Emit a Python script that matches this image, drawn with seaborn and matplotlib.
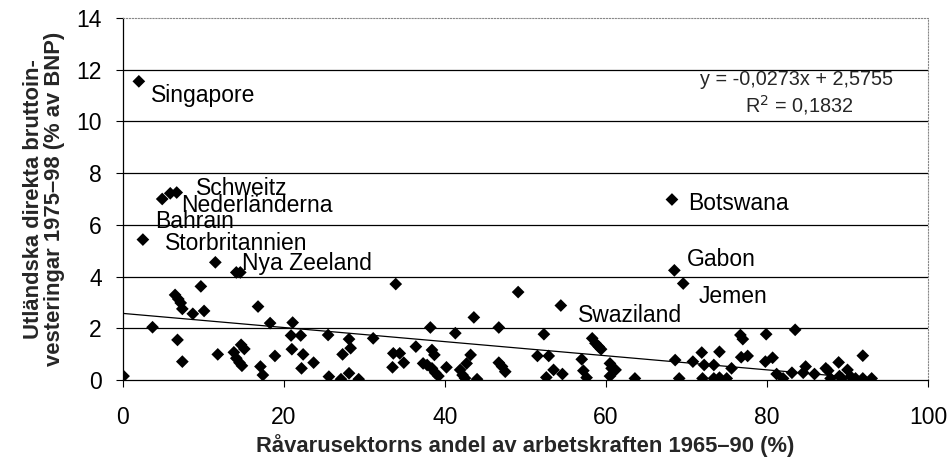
"""FDI vs primary-sector labour share — scatter with trendline."""

import numpy as np
import pandas as pd
import matplotlib
matplotlib.use('Agg')
import matplotlib.pyplot as plt
import seaborn as sns

# labelled countries
countries = ["Singapore", "Schweitz", "Nederländerna", "Bahrain", "Storbritannien",
             "Nya Zeeland", "Botswana", "Gabon", "Jemen", "Swaziland"]
country_x = [2.0, 6.7, 5.9, 4.9, 2.5, 11.5, 68.2, 68.5, 69.6, 54.4]
country_y = [11.55, 7.25, 7.22, 7.0, 5.43, 4.55, 6.98, 4.24, 3.73, 2.88]

# unlabelled countries
other_x = [0.1, 3.7, 9.7, 6.5, 6.9, 7.2, 7.4, 8.7, 10.1, 6.8, 7.4, 16.8, 18.3, 11.8,
           13.8, 14.7, 15.1, 14.1, 14.5, 14.8, 17.1, 17.4, 18.9, 21.1, 20.9, 22.1,
           21.0, 22.4, 22.2, 23.7, 25.5, 25.6, 14.1, 14.6,
           27.1, 33.9, 28.1, 28.3, 27.3, 28.1, 29.3, 31.1, 33.6, 34.4, 34.9, 33.5,
           36.4, 38.2, 38.4, 38.7, 37.3, 37.8, 38.4, 38.8, 39.2, 40.2, 41.3, 43.6,
           43.2, 42.7, 41.9, 42.2, 42.5, 44.0, 46.7, 49.1, 46.7, 47.1, 47.5, 51.5,
           52.3, 52.9, 53.5, 52.6, 54.6, 57.0, 57.2, 57.6, 58.3, 58.7, 59.1, 59.4,
           60.5, 60.7, 61.2, 60.5, 63.6, 68.6, 69.1, 70.8, 71.9, 72.2, 72.0, 73.4,
           74.1, 74.1, 75.0, 73.4, 75.6, 76.7, 77.0, 76.8,
           77.6, 79.9, 83.5, 79.8, 80.7, 81.2, 82.0, 83.1, 84.8, 84.5, 85.9, 87.3,
           87.6, 87.9, 88.9, 89.0, 89.3, 90.0, 91.0, 91.9, 93.0, 90.4, 91.9]
other_y = [0.15, 2.04, 3.62, 3.29, 3.13, 2.98, 2.75, 2.56, 2.67, 1.55, 0.71, 2.84, 2.2, 0.99,
           1.07, 1.36, 1.2, 0.84, 0.67, 0.55, 0.52, 0.19, 0.93, 2.22, 1.72, 1.72,
           1.19, 0.99, 0.45, 0.67, 1.74, 0.13, 4.16, 4.16,
           0.03, 3.71, 1.58, 1.23, 0.99, 0.26, 0.03, 1.61, 1.03, 1.03, 0.67, 0.49,
           1.29, 2.03, 1.16, 0.97, 0.64, 0.58, 0.45, 0.28, 0.15, 0.49, 1.81, 2.42,
           0.97, 0.64, 0.39, 0.19, 0.07, 0.03, 2.03, 3.4, 0.67, 0.52, 0.32, 0.93,
           1.77, 0.93, 0.39, 0.1, 0.23, 0.8, 0.36, 0.09, 1.61, 1.42, 1.29, 1.19,
           0.64, 0.45, 0.39, 0.15, 0.06, 0.77, 0.06, 0.71, 1.06, 0.58, 0.06, 0.58,
           1.09, 0.09, 0.06, 0.06, 0.45, 1.74, 1.58, 0.88,
           0.93, 1.77, 1.94, 0.71, 0.86, 0.23, 0.06, 0.28, 0.52, 0.28, 0.23, 0.45,
           0.36, 0.06, 0.68, 0.15, 0.06, 0.39, 0.06, 0.06, 0.06, 0.13, 0.94]

# trendline as printed in the chart
slope, intercept, r2 = -0.0273, 2.5755, 0.1832

df = pd.DataFrame({"x": country_x + other_x, "y": country_y + other_y})

sns.set_theme(style="white")
plt.rcParams['font.family'] = ['Liberation Sans', 'DejaVu Sans']

fig = plt.figure(figsize=(9.53, 4.69), dpi=100)
ax = fig.add_axes([0.1288, 0.1898, 0.8450, 0.7718])

sns.scatterplot(data=df, x="x", y="y", marker="D", s=42, color="black",
                edgecolor="none", ax=ax, zorder=3)

xs = np.array([df.x.min(), df.x.max()])
ax.plot(xs, slope * xs + intercept, color="black", linewidth=0.9, zorder=2)

# label offsets in points
offsets = [(9, -10), (14, 3), (8, -9), (-5, -16), (16, -3),
           (19, -1), (12, -3), (9, 8), (11, -9), (12, -7)]
for name, x, y, off in zip(countries, country_x, country_y, offsets):
    ax.annotate(name, (x, y), xytext=off, textcoords="offset points",
                ha="left", va="center", fontsize=16.5, color="black")

ax.text(0.837, 0.829, f"y = {slope:.4f}x + {intercept:.4f}".replace(".", ","),
        transform=ax.transAxes, ha="center", va="center", fontsize=14.3)
ax.text(0.840, 0.760, f"R$^2$ = {r2:.4f}".replace(".", ","),
        transform=ax.transAxes, ha="center", va="center", fontsize=14.3)

ax.set_xlim(0, 100)
ax.set_ylim(0, 14)
ax.set_xticks(range(0, 101, 20))
ax.set_yticks(range(0, 15, 2))
for yv in range(2, 13, 2):
    ax.axhline(yv, color="black", linewidth=0.9, zorder=1)

ax.tick_params(axis="both", direction="out", length=5, width=0.8, labelsize=16.5,
               colors="black", bottom=True, left=True)
ax.tick_params(axis="x", pad=14)
ax.tick_params(axis="y", pad=10)
for side in ["left", "bottom"]:
    ax.spines[side].set_color("black")
    ax.spines[side].set_linewidth(0.9)
for side in ["top", "right"]:
    ax.spines[side].set_color("#888888")
    ax.spines[side].set_linestyle(":")
    ax.spines[side].set_linewidth(0.8)

ax.set_xlabel("Råvarusektorns andel av arbetskraften 1965–90 (%)",
              fontsize=15.8, fontweight="bold", labelpad=3)
ax.set_ylabel("Utländska direkta bruttoin-\nvesteringar 1975–98 (% av BNP)",
              fontsize=15.8, fontweight="bold", labelpad=8, linespacing=1.05)

fig.savefig("out.png", dpi=100)
plt.close()
